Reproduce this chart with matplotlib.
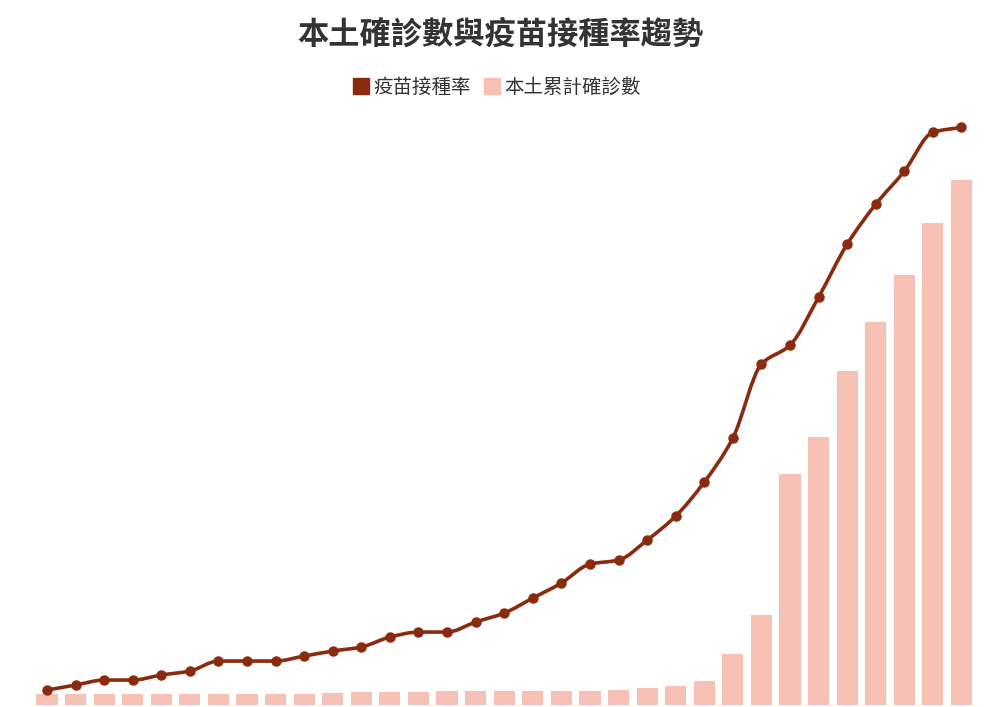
import numpy as np
import matplotlib
matplotlib.use("Agg")
import matplotlib.pyplot as plt
from matplotlib.path import Path
from matplotlib.patches import PathPatch
from matplotlib.lines import Line2D

plt.rcParams['font.family'] = ['Noto Sans CJK TC', 'DejaVu Sans']

# data (no axis shown)
periods = list(range(33))
cases = [11, 11, 11, 11, 11, 11, 11.3, 11.3, 11.3, 11.3, 12.3, 12.7, 12.7, 13.3, 13.7, 13.7,
         13.7, 14, 14, 14.3, 15.3, 17.3, 19.3, 23.7, 51, 90, 231, 268, 334, 383, 430, 482, 525]
vacc_rate = [1.5, 2.0, 2.5, 2.5, 3.0, 3.4, 4.4, 4.4, 4.4, 4.9, 5.4, 5.8, 6.8, 7.3, 7.3,
             8.3, 9.2, 10.7, 12.2, 14.1, 14.5, 16.5, 18.9, 22.3, 26.7, 34.1, 36.0,
             40.8, 46.1, 50.1, 53.4, 57.3, 57.8]

LINE_COLOR = "#8a2a0e"
BAR_COLOR = "#f7c0b5"

fig = plt.figure(figsize=(10, 7.07), dpi=100)
ax = fig.add_axes([0.0327, 0.0028, 0.943, 0.827])
ax.bar(periods, cases, width=0.74, color=BAR_COLOR, zorder=1)
ax.set_xlim(-0.5, len(periods) - 0.5)
ax.set_ylim(0, 585)
ax.axis("off")

ax2 = ax.twinx()
ax2.set_ylim(0, 58.5)
ax2.axis("off")

# monotone cubic curve through the points, drawn as bezier segments
x = np.array(periods, dtype=float)
y = np.array(vacc_rate)
d = np.diff(y) / np.diff(x)
m = np.zeros_like(y)
m[0], m[-1] = d[0], d[-1]
for k in range(1, len(y) - 1):
    if d[k - 1] * d[k] > 0:
        m[k] = 2 / (1 / d[k - 1] + 1 / d[k])
verts = [(x[0], y[0])]
codes = [Path.MOVETO]
for i in range(len(x) - 1):
    h = x[i + 1] - x[i]
    verts += [(x[i] + h / 3, y[i] + m[i] * h / 3),
              (x[i + 1] - h / 3, y[i + 1] - m[i + 1] * h / 3),
              (x[i + 1], y[i + 1])]
    codes += [Path.CURVE4] * 3
ax2.add_patch(PathPatch(Path(verts, codes), fill=False, edgecolor=LINE_COLOR, lw=2.6, zorder=3))
ax2.plot(x, y, "o", color=LINE_COLOR, markersize=6.5, zorder=4)

fig.text(0.5, 0.951, "本土確診數與疫苗接種率趨勢", ha="center", va="center",
         fontsize=22.5, fontweight="bold", color="#333333")

handles = [Line2D([], [], marker="s", linestyle="none", markersize=11.5, color=LINE_COLOR),
           Line2D([], [], marker="s", linestyle="none", markersize=11.5, color=BAR_COLOR)]
fig.legend(handles, ["疫苗接種率", "本土累計確診數"], loc="center", bbox_to_anchor=(0.495, 0.876),
           ncol=2, frameon=False, fontsize=14, handletextpad=0.05, columnspacing=0.5,
           handlelength=1.2, labelcolor="#333333")

fig.savefig("out.png", dpi=100, facecolor="white")
